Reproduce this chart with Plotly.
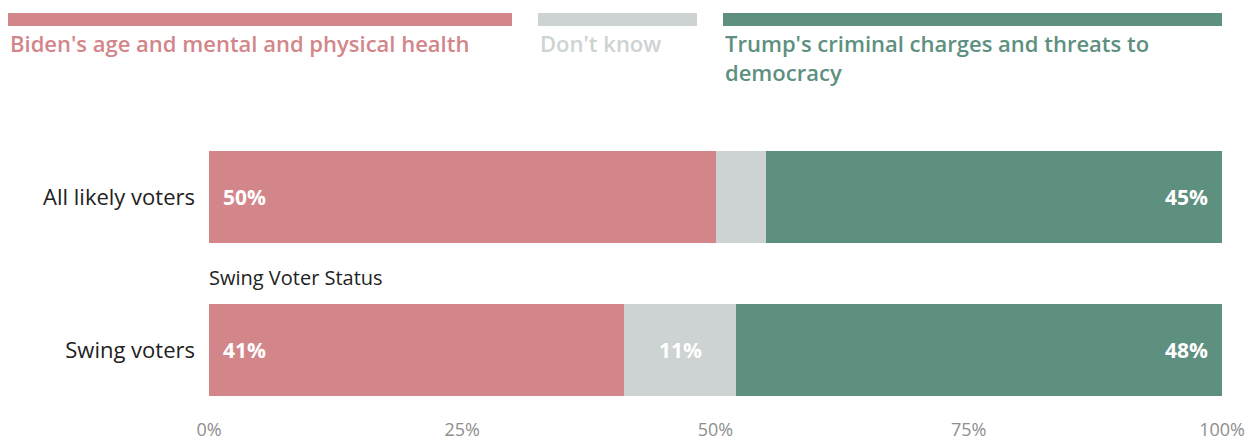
import plotly.graph_objects as go

# Survey responses: which concern matters more, by group (percent)
groups = ["All likely voters", "Swing voters"]
biden_health = [50, 41]
dont_know = [5, 11]
trump_charges = [45, 48]

series_names = [
    "Biden's age and mental and physical health",
    "Don't know",
    "Trump's criminal charges and threats to democracy",
]
x_ticks = [0, 25, 50, 75, 100]
x_tick_text = [f"{v}%" for v in x_ticks]

RED = "#d3868a"
GRAY = "#cdd3d2"
GREEN = "#5e9080"
FONT = "Open Sans"

W, H = 1260, 440
L, R = 209, 1222          # plot area left/right in px
TOP, BOT = 110, 405       # plot area top/bottom in px
ROW_PX = 153              # px between bar centres
ROW0 = 197                # px centre of first bar

ypos = list(range(len(groups)))
y_top = -(ROW0 - TOP) / ROW_PX
y_bot = (BOT - ROW0) / ROW_PX
bar_w = 92 / ROW_PX

fig = go.Figure()
series = [(biden_health, RED), (dont_know, GRAY), (trump_charges, GREEN)]
for name, (vals, col) in zip(series_names, series):
    fig.add_trace(go.Bar(
        y=ypos, x=vals, orientation="h", name=name,
        marker=dict(color=col, line=dict(width=0)),
        width=bar_w, showlegend=False, hoverinfo="skip",
    ))

# value labels placed at segment edges / centres from the data
ann = []
lbl_font = dict(family=FONT, size=21, color="white", weight=700)
for i, y in enumerate(ypos):
    b, d, t = biden_health[i], dont_know[i], trump_charges[i]
    ann.append(dict(x=0, y=y, xref="x", yref="y", text=f"{b}%", showarrow=False,
                    xanchor="left", xshift=12, font=lbl_font))
    if d >= 8:
        ann.append(dict(x=b + d / 2, y=y, xref="x", yref="y", text=f"{d}%",
                        showarrow=False, xanchor="center", font=lbl_font))
    ann.append(dict(x=b + d + t, y=y, xref="x", yref="y", text=f"{t}%",
                    showarrow=False, xanchor="right", xshift=-12, font=lbl_font))

# group sub-header above swing voters bar
ann.append(dict(x=0, y=ypos[1] - bar_w / 2, xref="x", yref="y",
                text="Swing Voter Status", showarrow=False, xanchor="left",
                yanchor="middle", yshift=27, xshift=-2,
                font=dict(family=FONT, size=20, color="#222222")))

# custom legend: colour strip with label beneath
def px_to_paper_x(px):
    return (px - L) / (R - L)

def px_to_paper_y(py):
    return (BOT - py) / (BOT - TOP)

legend_spans = [(8, 512, RED), (538, 697, GRAY), (723, 1222, GREEN)]
shapes = []
legend_text = [series_names[0], series_names[1],
               "Trump's criminal charges and threats to<br>democracy"]
for (x0, x1, col), txt in zip(legend_spans, legend_text):
    shapes.append(dict(type="rect", xref="paper", yref="paper",
                       x0=px_to_paper_x(x0), x1=px_to_paper_x(x1),
                       y0=px_to_paper_y(26), y1=px_to_paper_y(13),
                       fillcolor=col, line=dict(width=0), layer="above"))
    ann.append(dict(x=px_to_paper_x(x0), y=px_to_paper_y(26),
                    xref="paper", yref="paper", text=txt, showarrow=False,
                    xanchor="left", yanchor="top", align="left",
                    font=dict(family=FONT, size=22, color=col, weight=600)))

fig.update_layout(
    width=W, height=H,
    margin=dict(l=L, r=W - R, t=TOP, b=H - BOT, pad=0, autoexpand=False),
    barmode="stack", bargap=0,
    plot_bgcolor="white", paper_bgcolor="white",
    font=dict(family=FONT),
    annotations=ann, shapes=shapes,
    xaxis=dict(range=[0, 100], tickvals=x_ticks, ticktext=x_tick_text,
               showgrid=False, zeroline=False, showline=False,
               ticks="", ticklabelstandoff=12, automargin=False,
               tickfont=dict(family=FONT, size=18, color="#8e8e8e", weight=400),
               fixedrange=True),
    yaxis=dict(range=[y_bot, y_top], tickvals=ypos, ticktext=groups,
               showgrid=False, zeroline=False, showline=False,
               ticks="", ticklabelstandoff=13, automargin=False,
               tickfont=dict(family=FONT, size=22, color="#222222"),
               fixedrange=True),
)

fig.write_html("out.html", config={"displayModeBar": False})
